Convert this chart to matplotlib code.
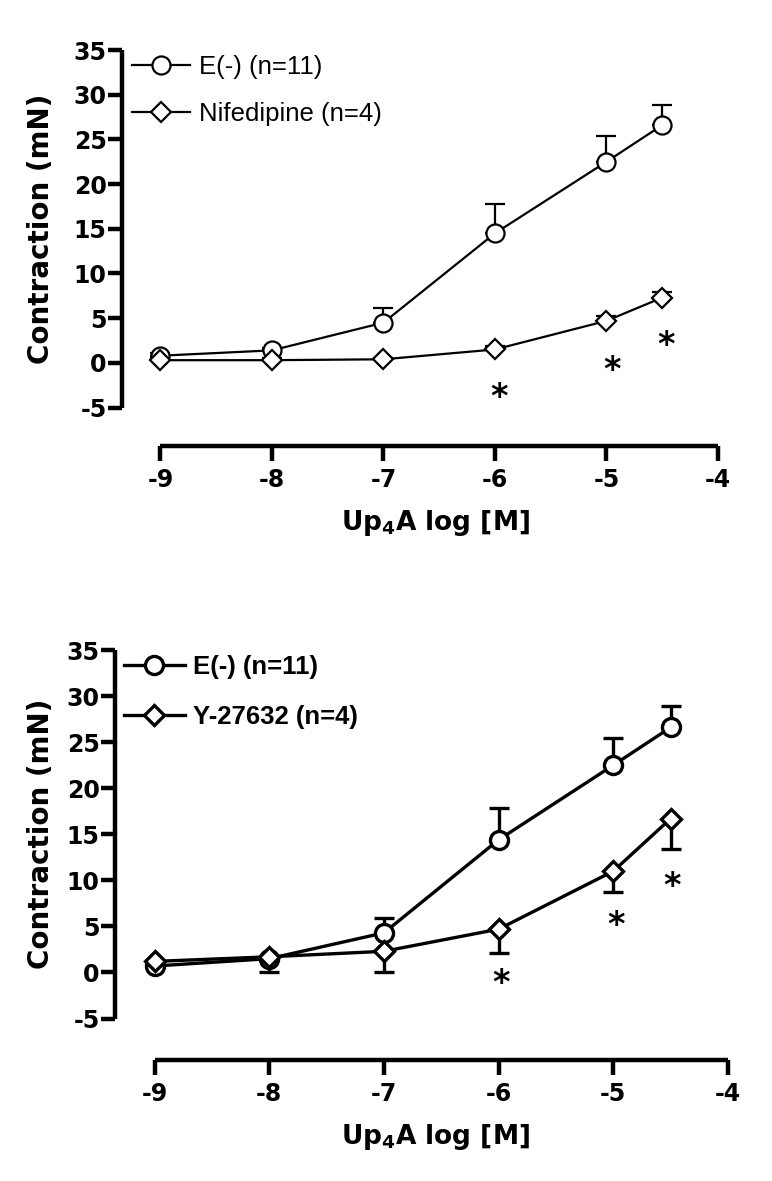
import matplotlib
matplotlib.use("Agg")
import matplotlib.pyplot as plt
from matplotlib.lines import Line2D
import numpy as np

plt.rcParams['axes.unicode_minus'] = False

# ---------------- data ----------------
conc = [-9, -8, -7, -6, -5, -4.5]

# top panel
top_e_mean = [0.8, 1.4, 4.5, 14.5, 22.5, 26.6]
top_e_err = [0.3, 0.3, 1.6, 3.3, 2.9, 2.2]
top_nif_mean = [0.3, 0.3, 0.4, 1.5, 4.7, 7.3]
top_nif_err = [0.2, 0.2, 0.2, 0.4, 0.5, 0.6]
top_star_x = [-5.96, -4.95, -4.47]
top_star_y = [-3.9, -0.9, 1.9]
top_labels = ["E(-) (n=11)", "Nifedipine (n=4)"]

# bottom panel
bot_e_mean = [0.7, 1.5, 4.3, 14.4, 22.5, 26.6]
bot_e_err = [0.3, 0.3, 1.6, 3.4, 2.9, 2.3]
bot_y_mean = [1.2, 1.7, 2.3, 4.7, 11.0, 16.7]
bot_y_err = [0.4, 1.6, 2.2, 2.6, 2.3, 3.3]
bot_star_x = [-5.98, -4.98, -4.49]
bot_star_y = [-1.2, 5.1, 9.3]
bot_labels = ["E(-) (n=11)", "Y-27632 (n=4)"]

yticks = [-5, 0, 5, 10, 15, 20, 25, 30, 35]
xticks = [-9, -8, -7, -6, -5, -4]

W, H = 772, 1181
fig = plt.figure(figsize=(W / 100, H / 100), dpi=100)

tickfont = dict(family="DejaVu Sans", weight="bold", size=17)


def make_axes(left_px, right_px, top_px, bottom_px, ybot):
    ax = fig.add_axes([left_px / W, 1 - bottom_px / H,
                       (right_px - left_px) / W, (bottom_px - top_px) / H])
    ax.set_xlim(-9.345, -4)
    ax.set_ylim(ybot, 35)
    for s in ("top", "right"):
        ax.spines[s].set_visible(False)
    ax.spines["left"].set_bounds(-5, 35)
    ax.spines["bottom"].set_bounds(-9, -4)
    for s in ("left", "bottom"):
        ax.spines[s].set_linewidth(3.2)
        ax.spines[s].set_capstyle("butt")
    ax.set_xticks(xticks)
    ax.set_yticks(yticks)
    ax.set_xticklabels([str(t) for t in xticks], fontdict=tickfont)
    ax.set_yticklabels([str(t) for t in yticks], fontdict=tickfont)
    ax.tick_params(axis="x", length=11, width=3.2, pad=5)
    ax.tick_params(axis="y", length=10, width=3.2, pad=1)
    ax.set_ylabel("Contraction (mN)", fontsize=20, fontweight="bold",
                  family="DejaVu Sans")
    ax.set_xlabel(r"Up$_\mathbf{4}$A log [M]", fontsize=19, fontweight="bold",
                  family="DejaVu Sans")
    wpx = right_px - left_px
    hpx = bottom_px - top_px
    ax.yaxis.set_label_coords((55 - left_px) / wpx, (15 - ybot) / (35 - ybot))
    ax.xaxis.set_label_coords((436 - left_px) / wpx, -62 / hpx)
    return ax


def panel(ax, m1, e1, m2, e2, up2, sx, sy, labels, lw, mew, legend_xy,
          legend_bold, hl, tp, ls):
    z = np.zeros(len(conc))
    ax.errorbar(conc, m1, yerr=[z, e1], color="black", lw=lw, marker="o",
                ms=13, mfc="white", mec="black", mew=mew, capsize=7.5,
                capthick=lw, elinewidth=lw, zorder=3, clip_on=False)
    yerr2 = [z, e2] if up2 else [e2, z]
    ax.errorbar(conc, m2, yerr=yerr2, color="black", lw=lw, marker="D",
                ms=10.5, mfc="white", mec="black", mew=mew, capsize=7.5,
                capthick=lw, elinewidth=lw, zorder=4, clip_on=False)
    for x, y in zip(sx, sy):
        ax.text(x, y, "*", ha="center", va="center", fontsize=24,
                fontweight="bold", family="DejaVu Sans")
    h1 = Line2D([], [], color="black", lw=lw, marker="o", ms=13, mfc="white",
                mec="black", mew=mew)
    h2 = Line2D([], [], color="black", lw=lw, marker="D", ms=10.5, mfc="white",
                mec="black", mew=mew)
    ax.legend([h1, h2], labels, loc="upper left",
              bbox_to_anchor=(legend_xy[0] / W, 1 - legend_xy[1] / H),
              bbox_transform=fig.transFigure, frameon=False,
              borderpad=0, borderaxespad=0, handlelength=hl,
              handletextpad=tp, labelspacing=ls, numpoints=1,
              prop=dict(family="Liberation Sans", size=18.5,
                        weight="bold" if legend_bold else "normal"))


ax1 = make_axes(122, 718, 50, 446, -9.3)
panel(ax1, top_e_mean, top_e_err, top_nif_mean, top_nif_err, True,
      top_star_x, top_star_y, top_labels, 1.6, 1.6, (132, 55), False,
      2.26, 0.35, 0.88)

ax2 = make_axes(115, 728, 650, 1060, -9.5)
panel(ax2, bot_e_mean, bot_e_err, bot_y_mean, bot_y_err, False,
      bot_star_x, bot_star_y, bot_labels, 2.4, 2.4, (124, 655), True,
      2.37, 0.31, 1.0)

fig.savefig("out.png", dpi=100, facecolor="white")
